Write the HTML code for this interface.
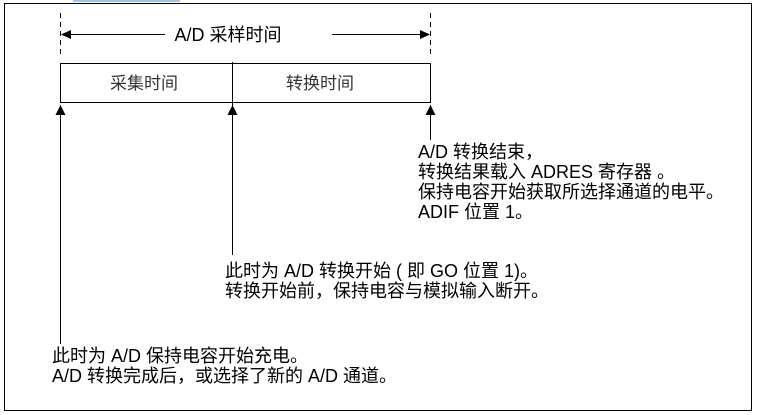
<!DOCTYPE html>
<html><head><meta charset="utf-8"><style>
body{margin:0;width:757px;height:415px;background:#fff;overflow:hidden;position:relative;font-family:"Liberation Sans","Noto Sans CJK SC",sans-serif;color:#000}
.t{position:absolute;font-size:18px;line-height:20px;white-space:nowrap}
</style></head><body>
<svg width="757" height="415" style="position:absolute;left:0;top:0">
<rect x="4.5" y="3.5" width="747" height="407" fill="none" stroke="#000" stroke-width="1"/>
<line x1="73" y1="1" x2="180" y2="1" stroke="#9fc3e0" stroke-width="2"/>
<line x1="60.5" y1="13" x2="60.5" y2="54" stroke="#000" stroke-dasharray="5,4"/>
<line x1="430.5" y1="13" x2="430.5" y2="54" stroke="#000" stroke-dasharray="5,4"/>
<line x1="66" y1="34.5" x2="165" y2="34.5" stroke="#000"/>
<line x1="332" y1="34.5" x2="424" y2="34.5" stroke="#000"/>
<polygon points="61,34.5 71,30 71,39" fill="#000"/>
<polygon points="430,34.5 420,30 420,39" fill="#000"/>
<rect x="60.5" y="63.5" width="370" height="39" fill="none" stroke="#000"/>
<line x1="232.5" y1="62" x2="232.5" y2="255" stroke="#000"/>
<line x1="60.5" y1="105" x2="60.5" y2="344" stroke="#000"/>
<line x1="430.5" y1="105" x2="430.5" y2="140" stroke="#000"/>
<polygon points="60.5,105 55.5,115 65.5,115" fill="#000"/>
<polygon points="232.5,105 227.5,115 237.5,115" fill="#000"/>
<polygon points="430.5,105 425.5,115 435.5,115" fill="#000"/>
<text x="228" y="41" font-size="18" text-anchor="middle" font-family="Liberation Sans,Noto Sans CJK SC,sans-serif">A/D 采样时间</text>
<text x="144" y="89" font-size="17" text-anchor="middle" fill="#333" font-family="Liberation Sans,Noto Sans CJK SC,sans-serif">采集时间</text>
<text x="320" y="89" font-size="17" text-anchor="middle" fill="#333" font-family="Liberation Sans,Noto Sans CJK SC,sans-serif">转换时间</text>
</svg>
<div class="t" style="left:418px;top:142px">A/D 转换结束，<br>转换结果载入 ADRES 寄存器 。<br>保持电容开始获取所选择通道的电平。<br>ADIF 位置 1。</div>
<div class="t" style="left:225px;top:261px">此时为 A/D 转换开始 ( 即 GO 位置 1)。<br>转换开始前，保持电容与模拟输入断开。</div>
<div class="t" style="left:52px;top:346px">此时为 A/D 保持电容开始充电。<br>A/D 转换完成后，或选择了新的 A/D 通道。</div>
</body></html>
